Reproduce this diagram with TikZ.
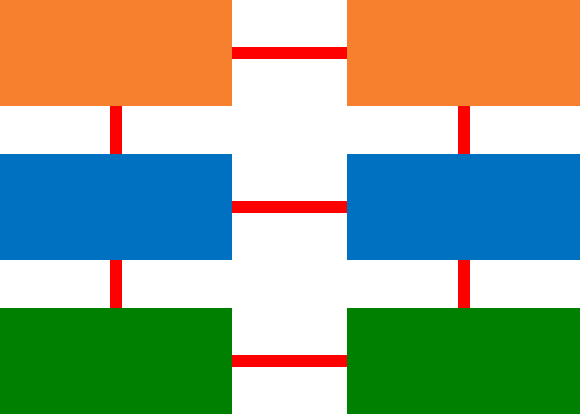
\documentclass[tikz,border=0pt]{standalone}
\usepackage{tikz}
\usetikzlibrary{matrix}
\definecolor{boxorange}{HTML}{F6802E}
\definecolor{boxblue}{HTML}{0070C0}
\definecolor{boxgreen}{HTML}{008000}
\tikzstyle{block}=[rectangle,minimum width=232pt,minimum height=106pt,
inner sep=0pt,outer sep=0pt]
\tikzstyle{link}=[draw=red,line width=12pt]
\begin{document}
\begin{tikzpicture}[ampersand replacement=\&]
    \useasboundingbox (0,0) rectangle (580pt,-414pt);
    % The boxes sit in a matrix, two columns and three rows:
    \matrix[row sep=48pt,column sep=115pt,inner sep=0pt,outer sep=0pt,
      anchor=north west] at (0,0) {
      % First line: orange
      \node (l_1) [block,fill=boxorange] {}; \&
      \node (r_1) [block,fill=boxorange,minimum width=233pt] {};
      \\
      % Second line: blue
      \node (l_2) [block,fill=boxblue] {}; \&
      \node (r_2) [block,fill=boxblue,minimum width=233pt] {};
      \\
      % Third line: green
      \node (l_3) [block,fill=boxgreen] {}; \&
      \node (r_3) [block,fill=boxgreen,minimum width=233pt] {};
      \\
    };
    % The red links between the boxes:
    \path[link]
    (l_1) edge (r_1)
    (l_2) edge (r_2)
    (l_3) edge (r_3)

    (l_1) edge (l_2)
    (l_2) edge (l_3)

    (r_1) edge (r_2)
    (r_2) edge (r_3)
    ;
\end{tikzpicture}
\end{document}
